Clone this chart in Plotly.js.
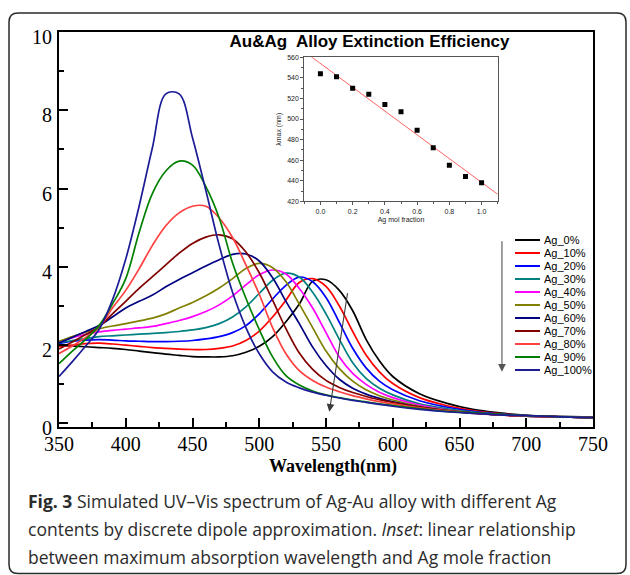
<!DOCTYPE html>
<html>
<head>
<meta charset="utf-8">
<script src="https://cdn.plot.ly/plotly-3.0.1.min.js"></script>
<style>
  html, body { margin: 0; padding: 0; background: #fff; }
  #chart { width: 630px; height: 575px; }
</style>
</head>
<body>
<div id="chart"></div>
<script>
// ---- Simulated extinction efficiency spectra (DDA), Ag-Au alloy ----
const wavelength = [350, 360, 370, 380, 390, 400, 410, 420, 430, 440, 450, 460, 470, 480, 490,
                    500, 510, 520, 530, 540, 550, 560, 570, 580, 590, 600, 620, 640, 660, 680,
                    700, 725, 750];

const ag0   = [2.00, 1.98, 1.96, 1.94, 1.92, 1.89, 1.85, 1.81, 1.77, 1.74, 1.71, 1.70, 1.70, 1.73, 1.82,
               1.97, 2.22, 2.60, 3.05, 3.63, 3.67, 3.40, 2.88, 2.15, 1.60, 1.20, 0.76, 0.52, 0.36, 0.27,
               0.21, 0.18, 0.16];
const ag10  = [1.96, 2.00, 2.04, 2.05, 2.03, 2.00, 1.97, 1.94, 1.92, 1.90, 1.89, 1.89, 1.92, 1.98, 2.12,
               2.36, 2.72, 3.15, 3.60, 3.70, 3.50, 3.00, 2.35, 1.75, 1.32, 1.02, 0.66, 0.46, 0.33, 0.25,
               0.20, 0.17, 0.15];
const ag20  = [2.04, 2.10, 2.13, 2.14, 2.13, 2.11, 2.10, 2.09, 2.09, 2.10, 2.12, 2.16, 2.22, 2.32, 2.50,
               2.80, 3.18, 3.53, 3.74, 3.62, 3.22, 2.58, 1.92, 1.42, 1.08, 0.86, 0.58, 0.42, 0.31, 0.24,
               0.20, 0.17, 0.15];
const ag30  = [2.06, 2.12, 2.17, 2.22, 2.24, 2.26, 2.28, 2.30, 2.32, 2.35, 2.39, 2.45, 2.55, 2.72, 2.98,
               3.32, 3.66, 3.84, 3.74, 3.35, 2.80, 2.15, 1.55, 1.15, 0.90, 0.73, 0.50, 0.38, 0.29, 0.23,
               0.19, 0.17, 0.15];
const ag40  = [2.08, 2.19, 2.28, 2.34, 2.38, 2.41, 2.44, 2.48, 2.55, 2.63, 2.73, 2.86, 3.03, 3.26, 3.54,
               3.80, 3.92, 3.82, 3.45, 2.95, 2.32, 1.70, 1.28, 1.00, 0.80, 0.66, 0.47, 0.35, 0.27, 0.22,
               0.19, 0.17, 0.15];
const ag50  = [2.10, 2.22, 2.33, 2.42, 2.49, 2.55, 2.62, 2.69, 2.80, 2.95, 3.09, 3.26, 3.46, 3.70, 3.96,
               4.09, 3.98, 3.62, 3.05, 2.45, 1.85, 1.40, 1.08, 0.86, 0.71, 0.60, 0.44, 0.34, 0.27, 0.22,
               0.19, 0.17, 0.15];
const ag60  = [2.06, 2.20, 2.35, 2.50, 2.72, 2.95, 3.12, 3.28, 3.49, 3.68, 3.85, 4.02, 4.18, 4.32, 4.33,
               4.15, 3.72, 3.12, 2.55, 1.95, 1.48, 1.13, 0.90, 0.75, 0.64, 0.55, 0.42, 0.33, 0.27, 0.22,
               0.19, 0.17, 0.15];
const ag70  = [1.90, 2.08, 2.27, 2.47, 2.80, 3.12, 3.45, 3.75, 4.05, 4.35, 4.60, 4.76, 4.82, 4.72, 4.38,
               3.85, 3.15, 2.42, 1.80, 1.38, 1.10, 0.92, 0.79, 0.69, 0.61, 0.54, 0.42, 0.33, 0.27, 0.22,
               0.19, 0.17, 0.15];
const ag80  = [1.79, 1.98, 2.20, 2.45, 2.95, 3.40, 3.95, 4.55, 5.05, 5.38, 5.55, 5.55, 5.25, 4.75, 4.05,
               3.30, 2.45, 1.78, 1.35, 1.10, 0.93, 0.81, 0.71, 0.63, 0.56, 0.50, 0.40, 0.32, 0.26, 0.22,
               0.19, 0.17, 0.15];
const ag90  = [1.53, 1.85, 2.15, 2.50, 3.05, 3.70, 4.88, 5.88, 6.45, 6.70, 6.60, 6.05, 5.25, 4.10, 3.20,
               2.40, 1.70, 1.22, 0.98, 0.83, 0.73, 0.66, 0.60, 0.55, 0.50, 0.46, 0.38, 0.31, 0.27, 0.23,
               0.20, 0.17, 0.15];
const ag100 = [1.20, 1.58, 1.98, 2.40, 3.15, 4.20, 5.55, 7.05, 8.42, 8.42, 7.30, 5.95, 4.55, 3.35, 2.45,
               1.78, 1.32, 1.06, 0.91, 0.80, 0.72, 0.65, 0.59, 0.54, 0.49, 0.44, 0.36, 0.30, 0.26, 0.22,
               0.20, 0.17, 0.15];

const seriesNames = ['Ag_0%', 'Ag_10%', 'Ag_20%', 'Ag_30%', 'Ag_40%', 'Ag_50%',
                     'Ag_60%', 'Ag_70%', 'Ag_80%', 'Ag_90%', 'Ag_100%'];
const seriesValues = [ag0, ag10, ag20, ag30, ag40, ag50, ag60, ag70, ag80, ag90, ag100];

// ---- Inset: peak wavelength vs Ag mole fraction ----
const agFraction = [0.0, 0.1, 0.2, 0.3, 0.4, 0.5, 0.6, 0.7, 0.8, 0.9, 1.0];
const lambdaMax  = [544, 541, 530, 524, 514, 507, 489, 472, 455, 444, 438];

// ---- Styles ----
const seriesColors = ['#000000', '#ff0000', '#0000ff', '#008080', '#ff00ff', '#808000',
                      '#000080', '#800000', '#ff4040', '#008000', '#1c1c96'];

// Pixel geometry of the figure, and helpers to convert to paper units
const FIG_W = 630, FIG_H = 575;
const M = { l: 59, r: 37, t: 32, b: 148 };
const PW = FIG_W - M.l - M.r, PH = FIG_H - M.t - M.b;
const px = x => (x - M.l) / PW;
const py = y => 1 - (y - M.t) / PH;

// Least-squares line through the inset points
const n = agFraction.length;
const mx = agFraction.reduce((a, b) => a + b, 0) / n;
const my = lambdaMax.reduce((a, b) => a + b, 0) / n;
let sxy = 0, sxx = 0;
for (let i = 0; i < n; i++) {
  sxy += (agFraction[i] - mx) * (lambdaMax[i] - my);
  sxx += (agFraction[i] - mx) ** 2;
}
const slope = sxy / sxx, intercept = my - slope * mx;
const fitX = [-0.1, 1.1];
const fitY = fitX.map(x => intercept + slope * x);

const traces = seriesValues.map((vals, i) => ({
  type: 'scatter', mode: 'lines',
  x: wavelength, y: vals, name: seriesNames[i],
  line: { color: seriesColors[i], width: 1.7, shape: 'spline', smoothing: 1 },
  showlegend: false, hoverinfo: 'skip'
}));

traces.push({
  type: 'scatter', mode: 'lines', x: fitX, y: fitY,
  xaxis: 'x2', yaxis: 'y2', line: { color: '#ff6464', width: 1 },
  showlegend: false, hoverinfo: 'skip'
});
traces.push({
  type: 'scatter', mode: 'markers', x: agFraction, y: lambdaMax,
  xaxis: 'x2', yaxis: 'y2',
  marker: { symbol: 'square', size: 5, color: '#000' },
  showlegend: false, hoverinfo: 'skip'
});

const serif = 'Liberation Serif, Times New Roman, serif';
const sans = 'Liberation Sans, Arial, sans-serif';

// Legend drawn as short line samples with labels
const shapes = [];
const annotations = [];
seriesNames.forEach((name, i) => {
  const yy = 240 + 13 * i;
  shapes.push({
    type: 'line', xref: 'paper', yref: 'paper',
    x0: px(515), x1: px(540), y0: py(yy), y1: py(yy),
    line: { color: seriesColors[i], width: 2 }
  });
  annotations.push({
    xref: 'paper', yref: 'paper', x: px(541.5), y: py(yy),
    xanchor: 'left', yanchor: 'middle', showarrow: false,
    text: name, font: { family: sans, size: 11, color: '#000' }
  });
});

// Rounded frame around the figure and caption
(function () {
  const x0 = 9, y0 = 13, x1 = 626, y1 = 573.5, r = 9;
  const P = (x, y) => px(x) + ',' + py(y);
  const path = 'M' + P(x0 + r, y0) + ' L' + P(x1 - r, y0) + ' Q' + P(x1, y0) + ' ' + P(x1, y0 + r) +
    ' L' + P(x1, y1 - r) + ' Q' + P(x1, y1) + ' ' + P(x1 - r, y1) +
    ' L' + P(x0 + r, y1) + ' Q' + P(x0, y1) + ' ' + P(x0, y1 - r) +
    ' L' + P(x0, y0 + r) + ' Q' + P(x0, y0) + ' ' + P(x0 + r, y0) + ' Z';
  shapes.push({ type: 'path', xref: 'paper', yref: 'paper', path: path,
                line: { color: '#2a2a2a', width: 1.5 } });
})();

// Trend arrows
annotations.push({
  xref: 'x', yref: 'y', axref: 'x', ayref: 'y',
  x: 552.5, y: 0.30, ax: 566.3, ay: 3.37, text: '', showarrow: true,
  arrowhead: 2, arrowsize: 1.4, arrowwidth: 1.1, arrowcolor: '#3a3a3a'
});
annotations.push({
  xref: 'x', yref: 'y', axref: 'x', ayref: 'y',
  x: 681.8, y: 1.32, ax: 681.8, ay: 4.69, text: '', showarrow: true,
  arrowhead: 2, arrowsize: 1.4, arrowwidth: 1.1, arrowcolor: '#555'
});

// X axis title
annotations.push({
  xref: 'paper', yref: 'paper', x: px(333), y: py(466), xanchor: 'center', yanchor: 'middle',
  showarrow: false, text: '<b>Wavelength(nm)</b>', font: { family: serif, size: 18, color: '#000' }
});

// Caption
const captionFont = { family: 'Open Sans, sans-serif', size: 17.5, color: '#2b2b2b' };
const captionLines = [
  '<b>Fig. 3</b> Simulated UV–Vis spectrum of Ag-Au alloy with different Ag',
  'contents by discrete dipole approximation. <i>Inset</i>: linear relationship',
  'between maximum absorption wavelength and Ag mole fraction'
];
captionLines.forEach((t, i) => {
  annotations.push({
    xref: 'paper', yref: 'paper', x: px(26), y: py(501 + 28 * i),
    xanchor: 'left', yanchor: 'middle', showarrow: false, text: t, font: captionFont
  });
});

const layout = {
  width: FIG_W, height: FIG_H,
  margin: { l: M.l, r: M.r, t: M.t, b: M.b, pad: 0 },
  paper_bgcolor: '#fff', plot_bgcolor: 'rgba(0,0,0,0)',
  showlegend: false,
  title: {
    text: '<b>Au&amp;Ag\u00a0 Alloy Extinction Efficiency</b>',
    font: { family: sans, size: 17, color: '#000' },
    xref: 'paper', x: px(369.5), xanchor: 'center',
    yref: 'container', y: 1 - 41 / FIG_H, yanchor: 'middle'
  },
  xaxis: {
    range: [350, 750], tick0: 350, dtick: 50,
    ticks: 'inside', ticklen: 9, tickwidth: 2, tickcolor: '#000',
    minor: { dtick: 25, ticks: 'inside', ticklen: 5, tickwidth: 2, tickcolor: '#000' },
    showline: true, linewidth: 2, linecolor: '#000', mirror: true,
    showgrid: false, zeroline: false,
    tickfont: { family: serif, size: 20, color: '#000' },
    ticklabelstandoff: -2
  },
  yaxis: {
    range: [-0.09, 10], tick0: 0, dtick: 2,
    ticks: 'inside', ticklen: 9, tickwidth: 2, tickcolor: '#000',
    minor: { dtick: 1, ticks: 'inside', ticklen: 5, tickwidth: 2, tickcolor: '#000' },
    showline: true, linewidth: 2, linecolor: '#000', mirror: true,
    showgrid: false, zeroline: false,
    tickfont: { family: serif, size: 20, color: '#000' },
    ticklabelstandoff: 1, ticklabelshift: 5
  },
  xaxis2: {
    domain: [px(304.3), px(497.7)], anchor: 'y2',
    range: [-0.1, 1.1], tick0: 0, dtick: 0.2, tickformat: '.1f',
    ticks: 'outside', ticklen: 3, tickwidth: 1, tickcolor: '#555',
    minor: { dtick: 0.1, ticks: 'outside', ticklen: 2, tickwidth: 1, tickcolor: '#555' },
    showline: true, linewidth: 1, linecolor: '#555', mirror: true,
    showgrid: false, zeroline: false,
    tickfont: { family: sans, size: 7, color: '#222' },
    title: { text: 'Ag mol fraction', font: { family: sans, size: 7, color: '#222' }, standoff: 3 }
  },
  yaxis2: {
    domain: [py(201.3), py(57.3)], anchor: 'x2',
    range: [420, 560], tick0: 420, dtick: 20,
    ticks: 'outside', ticklen: 3, tickwidth: 1, tickcolor: '#555',
    minor: { dtick: 10, ticks: 'outside', ticklen: 2, tickwidth: 1, tickcolor: '#555' },
    showline: true, linewidth: 1, linecolor: '#555', mirror: true,
    showgrid: false, zeroline: false,
    tickfont: { family: sans, size: 7, color: '#222' },
    title: { text: 'λmax (nm)', font: { family: sans, size: 7, color: '#222' }, standoff: 4 }
  },
  shapes: shapes,
  annotations: annotations
};

Plotly.newPlot('chart', traces, layout, { displayModeBar: false, staticPlot: true });
</script>
</body>
</html>
